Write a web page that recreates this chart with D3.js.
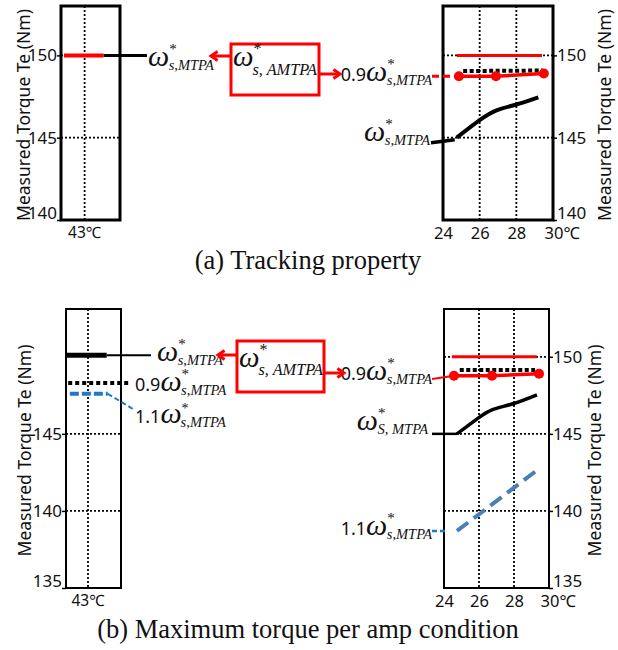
<!DOCTYPE html>
<html>
<head>
<meta charset="utf-8">
<script src="https://cdn.jsdelivr.net/npm/d3@7"></script>
<style>
  html, body { margin: 0; padding: 0; background: #fff; }
  svg { display: block; }
</style>
</head>
<body>
<svg id="chart" width="618" height="650"></svg>
<script>
// ---------------- DATA ----------------
const tempTicks = [24, 26, 28, 30];
const torqueTicksA = [140, 145, 150];
const torqueTicksBLeft = [135, 140, 145];
const torqueTicksBRight = [135, 140, 145, 150];
const leftCategory = "43℃";

// (a) left panel, 43℃ condition
const aLeftSpan = [41.25, 44.6];
const aLeftTorque = 150;

// (a) right panel
const aRefTemp = [24.76, 29.4];
const aRefTorque = [150, 150];
const aAmtpaTemp = [24.87, 26.89, 29.5];
const aAmtpaTorque = [148.73, 148.73, 148.9];
const a09Temp = [25.1, 29.45];
const a09Torque = [149.05, 149.08];
const aMtpaTemp = [24.75, 26.0, 26.95, 28.04, 29.2];
const aMtpaTorque = [145.0, 146.06, 146.67, 147.03, 147.45];

// (b) left panel, 43℃ condition
const bLeftMtpaSpan = [41, 44.7];
const bLeftMtpaTorque = 150.1;
const bLeft09Span = [41.2, 46];
const bLeft09Torque = 148.3;
const bLeft11Span = [41.35, 44.8];
const bLeft11Torque = 147.6;

// (b) right panel
const bRefTemp = [24.45, 29.3];
const bRefTorque = [150, 150];
const bAmtpaTemp = [24.57, 26.74, 29.43];
const bAmtpaTorque = [148.77, 148.77, 148.9];
const b09Temp = [24.9, 29.2];
const b09Torque = [149.15, 149.15];
const bMtpaTemp = [24.74, 25.89, 26.74, 27.94, 29.31];
const bMtpaTorque = [145.0, 145.97, 146.56, 146.95, 147.53];
const b11Temp = [24.74, 29.49];
const b11Torque = [138.7, 142.79];

// ---------------- STYLE ----------------
const SANS = "'Noto Sans', 'Noto Sans CJK KR', 'DejaVu Sans', sans-serif";
const SERIF = "'Liberation Serif', 'DejaVu Serif', serif";
const RED = "#ff0000";
const BLUE = "#4a7ebb";
const BLUE2 = "#1f78c8";

const svg = d3.select("#chart");

function panel(cfg) {
  const x = d3.scaleLinear().domain(cfg.xDomain).range([cfg.x0, cfg.x1]);
  const y = d3.scaleLinear().domain(cfg.yDomain).range([cfg.y1, cfg.y0]);
  const g = svg.append("g");
  g.selectAll(".hg").data(cfg.gridY).join("line")
    .attr("x1", cfg.x0).attr("x2", cfg.x1)
    .attr("y1", d => y(d)).attr("y2", d => y(d))
    .attr("stroke", "#000").attr("stroke-width", 1.8).attr("stroke-dasharray", "2,2");
  g.selectAll(".vg").data(cfg.gridX).join("line")
    .attr("x1", d => x(d)).attr("x2", d => x(d))
    .attr("y1", cfg.y0).attr("y2", cfg.y1)
    .attr("stroke", "#000").attr("stroke-width", 1.8).attr("stroke-dasharray", "2,2");
  const axis = (cfg.side === "left" ? d3.axisLeft(y) : d3.axisRight(y))
    .tickValues(cfg.yTicks).tickSize(4).tickPadding(0).tickFormat(d3.format("d"));
  const ag = g.append("g")
    .attr("transform", `translate(${cfg.side === "left" ? cfg.x0 : cfg.x1},0)`)
    .call(axis);
  ag.select(".domain").remove();
  ag.selectAll("line").attr("stroke", "#000").attr("stroke-width", 1.5);
  ag.selectAll("text").attr("font-family", SANS).attr("font-size", 17).attr("fill", "#111");
  const yMin = d3.min(cfg.yTicks);
  ag.selectAll(".tick").filter(d => d === yMin).select("text").attr("y", -7);
  if (cfg.xTicks) {
    const xa = d3.axisBottom(x).tickValues(cfg.xTicks).tickSize(0).tickPadding(7)
      .tickFormat(d => d === 30 ? "30℃" : d);
    const xg = g.append("g").attr("transform", `translate(0,${cfg.y1})`).call(xa);
    xg.select(".domain").remove();
    xg.selectAll("text").attr("font-family", SANS).attr("font-size", 16.5).attr("fill", "#111");
    xg.selectAll(".tick").filter(d => d === 30).select("text")
      .attr("text-anchor", "start").attr("x", -9);
  } else {
    g.append("text").attr("x", x(43)).attr("y", cfg.y1 + 18)
      .attr("text-anchor", "middle").attr("font-family", SANS).attr("font-size", 15.5)
      .attr("fill", "#111").text(leftCategory);
  }
  g.append("text")
    .attr("transform", `translate(${cfg.titleX},${(cfg.y0 + cfg.y1) / 2 + 2}) rotate(-90)`)
    .attr("text-anchor", "middle").attr("font-family", SANS).attr("font-size", 17.5)
    .attr("fill", "#111").text("Measured Torque Te (Nm)");
  const marks = svg.append("g");
  const frame = () => g.append("rect")
    .attr("x", cfg.x0).attr("y", cfg.y0).attr("width", cfg.x1 - cfg.x0).attr("height", cfg.y1 - cfg.y0)
    .attr("fill", "none").attr("stroke", "#000").attr("stroke-width", cfg.frameW);
  return { x, y, g: marks, frame };
}

function omega(x, y, opts) {
  const o = Object.assign({ prefix: null, sub: "s,MTPA", anchor: "start", w: 30, s: 14.5, a: 15, up: 12, down: 16, dx: -8, color: "#111" }, opts);
  const t = svg.append("text").attr("x", x).attr("y", y).attr("text-anchor", o.anchor)
    .attr("font-family", SERIF).attr("fill", o.color);
  if (o.prefix) t.append("tspan").attr("font-family", SANS).attr("font-size", 18).text(o.prefix);
  t.append("tspan").attr("font-style", "italic").attr("font-size", o.w).text("ω");
  t.append("tspan").attr("font-size", o.a).attr("dy", -o.up).attr("dx", 0).text("*");
  t.append("tspan").attr("font-style", "italic").attr("font-size", o.s).attr("dy", o.down).attr("dx", o.dx).text(o.sub);
  return t;
}

function arrow(x1, y1, x2, y2) {
  const a = Math.atan2(y2 - y1, x2 - x1);
  const L = 8, s = 0.6;
  svg.append("line").attr("x1", x1).attr("y1", y1).attr("x2", x2).attr("y2", y2)
    .attr("stroke", RED).attr("stroke-width", 3);
  svg.append("path")
    .attr("d", `M${x2 - L * Math.cos(a - s)},${y2 - L * Math.sin(a - s)} L${x2},${y2} L${x2 - L * Math.cos(a + s)},${y2 - L * Math.sin(a + s)}`)
    .attr("fill", "none").attr("stroke", RED).attr("stroke-width", 3).attr("stroke-linejoin", "miter");
}

function seg(g, pts, style) {
  const line = d3.line().x(d => d[0]).y(d => d[1]);
  if (style.curve) line.curve(style.curve);
  return g.append("path").attr("d", line(pts)).attr("fill", "none")
    .attr("stroke", style.color).attr("stroke-width", style.w)
    .attr("stroke-dasharray", style.dash || null).attr("stroke-linecap", style.cap || "butt");
}
const zip = (a, b) => a.map((v, i) => [v, b[i]]);

// ================= (a) =================
const aL = panel({ x0: 61, x1: 120, y0: 6, y1: 220, xDomain: [41, 46], yDomain: [140, 153],
  gridY: [145, 150], gridX: [43], yTicks: torqueTicksA, side: "left", titleX: 30, frameW: 3 });
seg(aL.g, [[aL.x(aLeftSpan[1]), aL.y(aLeftTorque)], [147, aL.y(aLeftTorque)]], { color: "#000", w: 3 });
seg(aL.g, [[aL.x(aLeftSpan[0]), aL.y(aLeftTorque)], [aL.x(aLeftSpan[1]), aL.y(aLeftTorque)]], { color: RED, w: 4 });
aL.frame();
omega(148, 66, {});

const aR = panel({ x0: 443, x1: 553, y0: 6, y1: 220, xDomain: [24, 30], yDomain: [140, 153],
  gridY: [145, 150], gridX: [26, 28], yTicks: torqueTicksA, side: "right", titleX: 611, frameW: 3, xTicks: tempTicks });
seg(aR.g, zip(aRefTemp, aRefTorque).map(d => [aR.x(d[0]), aR.y(d[1])]), { color: RED, w: 3 });
seg(aR.g, zip(a09Temp, a09Torque).map(d => [aR.x(d[0]), aR.y(d[1])]), { color: "#000", w: 4, dash: "4,2.5" });
seg(aR.g, zip(aMtpaTemp, aMtpaTorque).map(d => [aR.x(d[0]), aR.y(d[1])]), { color: "#000", w: 4, curve: d3.curveNatural });
seg(aR.g, [[431, aR.y(aMtpaTorque[0]) + 5], [aR.x(aMtpaTemp[0]) - 2, aR.y(aMtpaTorque[0]) + 2]], { color: "#000", w: 3.5 });
seg(aR.g, [[432, aR.y(aAmtpaTorque[0])], [aR.x(aAmtpaTemp[0]), aR.y(aAmtpaTorque[0])]], { color: RED, w: 3, dash: "7,4" });
seg(aR.g, zip(aAmtpaTemp, aAmtpaTorque).map(d => [aR.x(d[0]), aR.y(d[1])]), { color: RED, w: 3.5 });
aR.g.selectAll(".dot").data(zip(aAmtpaTemp, aAmtpaTorque)).join("circle")
  .attr("cx", d => aR.x(d[0])).attr("cy", d => aR.y(d[1])).attr("r", 5).attr("fill", RED);
aR.frame();
omega(432, 81, { prefix: "0.9", anchor: "end" });
omega(430, 141, { anchor: "end" });

svg.append("rect").attr("x", 231).attr("y", 44).attr("width", 88).attr("height", 51)
  .attr("fill", "none").attr("stroke", RED).attr("stroke-width", 3);
omega(233, 66, { sub: "s, AMTPA", s: 16.3, w: 29, a: 16, up: 12, down: 21, dx: -9 });
arrow(231, 56, 211, 56);
arrow(319, 74, 340, 74);

svg.append("text").attr("x", 308).attr("y", 269).attr("text-anchor", "middle")
  .attr("font-family", SERIF).attr("font-size", 26.5).attr("fill", "#111").text("(a) Tracking property");

// ================= (b) =================
const bL = panel({ x0: 66, x1: 121, y0: 309, y1: 588, xDomain: [41, 46], yDomain: [135, 153.1],
  gridY: [140, 145], gridX: [43], yTicks: torqueTicksBLeft, side: "left", titleX: 31, frameW: 2 });
seg(bL.g, [[bL.x(bLeftMtpaSpan[0]), bL.y(bLeftMtpaTorque)], [bL.x(bLeftMtpaSpan[1]), bL.y(bLeftMtpaTorque)]], { color: "#000", w: 5 });
seg(bL.g, [[bL.x(bLeftMtpaSpan[1]), bL.y(bLeftMtpaTorque)], [151, bL.y(bLeftMtpaTorque)]], { color: "#000", w: 2 });
seg(bL.g, [[bL.x(bLeft09Span[0]), bL.y(bLeft09Torque)], [bL.x(bLeft09Span[1]), bL.y(bLeft09Torque)], [131, bL.y(bLeft09Torque)]], { color: "#000", w: 4, dash: "4,3" });
seg(bL.g, [[bL.x(bLeft11Span[0]), bL.y(bLeft11Torque)], [bL.x(bLeft11Span[1]), bL.y(bLeft11Torque)]], { color: BLUE2, w: 4, dash: "9,3" });
seg(bL.g, [[bL.x(bLeft11Span[1]), bL.y(bLeft11Torque)], [133, 409]], { color: BLUE2, w: 2, dash: "5,3" });
bL.frame();
omega(157, 361, {});
omega(135, 391, { prefix: "0.9" });
omega(135, 423, { prefix: "1.1", a: 14, up: 10, down: 14 });

const bR = panel({ x0: 444, x1: 549, y0: 309, y1: 588, xDomain: [24, 30], yDomain: [135, 153.1],
  gridY: [140, 145, 150], gridX: [26, 28], yTicks: torqueTicksBRight, side: "right", titleX: 601, frameW: 2, xTicks: tempTicks });
seg(bR.g, zip(bRefTemp, bRefTorque).map(d => [bR.x(d[0]), bR.y(d[1])]), { color: RED, w: 3 });
seg(bR.g, zip(b09Temp, b09Torque).map(d => [bR.x(d[0]), bR.y(d[1])]), { color: "#000", w: 4, dash: "4,2.5" });
seg(bR.g, zip(bMtpaTemp, bMtpaTorque).map(d => [bR.x(d[0]), bR.y(d[1])]), { color: "#000", w: 3.5, curve: d3.curveNatural });
seg(bR.g, zip(b11Temp, b11Torque).map(d => [bR.x(d[0]), bR.y(d[1])]), { color: BLUE, w: 4, dash: "14,7" });
seg(bR.g, [[432, bR.y(bMtpaTorque[0])], [bR.x(bMtpaTemp[0]), bR.y(bMtpaTorque[0])]], { color: "#000", w: 2.5 });
seg(bR.g, [[432, bR.y(b11Torque[0])], [448, bR.y(b11Torque[0])]], { color: BLUE2, w: 2.5, dash: "5,3" });
seg(bR.g, [[432, 379], [bR.x(bAmtpaTemp[0]), bR.y(bAmtpaTorque[0])]], { color: RED, w: 2 });
seg(bR.g, zip(bAmtpaTemp, bAmtpaTorque).map(d => [bR.x(d[0]), bR.y(d[1])]), { color: RED, w: 3.5 });
bR.g.selectAll(".dot").data(zip(bAmtpaTemp, bAmtpaTorque)).join("circle")
  .attr("cx", d => bR.x(d[0])).attr("cy", d => bR.y(d[1])).attr("r", 5).attr("fill", RED);
bR.frame();
omega(432, 380, { prefix: "0.9", anchor: "end" });
omega(428, 430, { anchor: "end", sub: "S, MTPA" });
omega(432, 535, { prefix: "1.1", anchor: "end" });

svg.append("rect").attr("x", 237).attr("y", 341).attr("width", 87).attr("height", 51)
  .attr("fill", "none").attr("stroke", RED).attr("stroke-width", 3);
omega(239, 367, { sub: "s, AMTPA", s: 16.3, w: 29, a: 16, up: 12, down: 20, dx: -9 });
arrow(237, 355, 218, 355);
arrow(324, 373, 344, 373);

svg.append("text").attr("x", 308).attr("y", 638).attr("text-anchor", "middle")
  .attr("font-family", SERIF).attr("font-size", 26.5).attr("fill", "#111").text("(b) Maximum torque per amp condition");
</script>
</body>
</html>
